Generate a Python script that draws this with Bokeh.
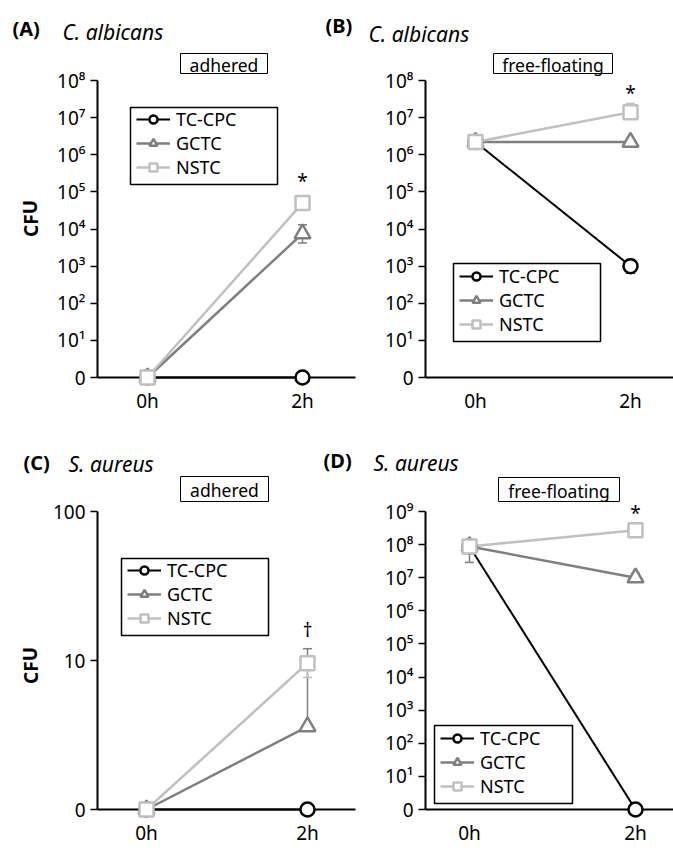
from bokeh.plotting import figure
from bokeh.models import (Range1d, LogScale, LinearScale, LinearAxis, LogAxis, FixedTicker,
                          Label, Legend, LegendItem, Whisker, TeeHead, ColumnDataSource)
from bokeh.embed import file_html
from bokeh.resources import INLINE

# ---------------- data ----------------
TIMES = ["0h", "2h"]
TIME_POS = [0, 1]
SERIES = ["TC-CPC", "GCTC", "NSTC"]

# (A) C. albicans, adhered
A_TCCPC = [1, 1]
A_GCTC = [1, 7.5e3]
A_NSTC = [1, 5.0e4]
A_ERR = [("GCTC", 1, 4.2e3, 1.3e4)]

# (B) C. albicans, free-floating
B_TCCPC = [2.2e6, 1.0e3]
B_GCTC = [2.2e6, 2.2e6]
B_NSTC = [2.2e6, 1.4e7]
B_ERR = [("TC-CPC", 1, 6.5e2, 1.5e3), ("NSTC", 1, 9.0e6, 2.4e7)]

# (C) S. aureus, adhered
C_TCCPC = [1, 1]
C_GCTC = [1, 3.6]
C_NSTC = [1, 9.6]
C_ERR = [("GCTC", 1, 3.6, 12.0), ("NSTC", 1, 7.7, 9.6)]

# (D) S. aureus, free-floating
D_TCCPC = [8.8e7, 1]
D_GCTC = [8.8e7, 1.0e7]
D_NSTC = [8.8e7, 2.7e8]
D_ERR = [("GCTC", 0, 2.9e7, 8.8e7), ("GCTC", 1, 1.0e7, 1.35e7), ("NSTC", 1, 2.7e8, 3.0e8)]

# ---------------- styles ----------------
FONT = "Noto Sans"
COLORS = {"TC-CPC": "#000000", "GCTC": "#7f7f7f", "NSTC": "#c0c0c0"}
MARKERS = {"TC-CPC": "circle", "GCTC": "triangle", "NSTC": "square"}
MSIZE = {"TC-CPC": 14, "GCTC": 16, "NSTC": 14}
LWIDTH = {"TC-CPC": 2, "GCTC": 2.5, "NSTC": 2.5}
SUP = str.maketrans("0123456789", "⁰¹²³⁴⁵⁶⁷⁸⁹")

# page-pixel geometry of each panel
PANELS = {
    "A": dict(vals=[A_TCCPC, A_GCTC, A_NSTC], err=A_ERR, x0=147, x1=302, y1=377, ytop=80, ndec=8,
              yax=97, xend=355, pow=True, legbox=(130, 107, 277, 184),
              title=("(A)", 12, 28, "C. albicans", 62, 31),
              box=("adhered", 180, 53, 267, 73),
              cfu=(30, 218), mark=("*", 302, 180)),
    "B": dict(vals=[B_TCCPC, B_GCTC, B_NSTC], err=B_ERR, x0=475, x1=630, y1=377, ytop=80, ndec=8,
              yax=425, xend=673, pow=True, legbox=(453, 263, 600, 341),
              title=("(B)", 325, 25, "C. albicans", 368, 33),
              box=("free-floating", 493, 53, 612, 73),
              cfu=None, mark=("*", 630, 92)),
    "C": dict(vals=[C_TCCPC, C_GCTC, C_NSTC], err=C_ERR, x0=146, x1=307, y1=809, ytop=511, ndec=2,
              yax=97, xend=355, pow=False, legbox=(121, 558, 268, 635),
              title=("(C)", 23, 462, "S. aureus", 68, 463),
              box=("adhered", 180, 476, 268, 501),
              cfu=(30, 665), mark=("†", 307, 629)),
    "D": dict(vals=[D_TCCPC, D_GCTC, D_NSTC], err=D_ERR, x0=469, x1=635, y1=809, ytop=511, ndec=9,
              yax=425, xend=673, pow=True, legbox=(434, 725, 572, 803),
              title=("(D)", 323, 460, "S. aureus", 373, 462),
              box=("free-floating", 498, 477, 619, 501),
              cfu=None, mark=("*", 635, 512)),
}

PX0, PX1, PY0, PY1 = 0, 673, 0, 851
p = figure(width=PX1 - PX0, height=PY1 - PY0, x_range=Range1d(PX0, PX1), y_range=Range1d(PY1, PY0),
           x_axis_location=None, y_axis_location=None, toolbar_location=None, tools="",
           output_backend="svg", min_border=0, outline_line_color=None,
           background_fill_color="white", border_fill_color="white")
p.xgrid.visible = False
p.ygrid.visible = False

exr, eyr, exs, eys = {}, {}, {}, {}
for key, g in PANELS.items():
    s = g["x1"] - g["x0"]
    d = (g["y1"] - g["ytop"]) / g["ndec"]
    exr[key + "x"] = Range1d((PX0 - g["x0"]) / s, (PX1 - g["x0"]) / s)
    eyr[key + "y"] = Range1d(10 ** ((g["y1"] - PY1) / d), 10 ** ((g["y1"] - PY0) / d))
    exs[key + "x"] = LinearScale()
    eys[key + "y"] = LogScale()
p.extra_x_ranges = exr
p.extra_y_ranges = eyr
p.extra_x_scales = exs
p.extra_y_scales = eys


def style_axis(ax):
    ax.axis_line_color = "black"
    ax.axis_line_width = 2
    ax.major_tick_line_color = "black"
    ax.major_tick_line_width = 1.5
    ax.minor_tick_line_color = None
    ax.major_label_text_font = FONT
    ax.major_label_text_font_size = "19px"
    ax.major_label_text_color = "black"


for key, g in PANELS.items():
    xn, yn = key + "x", key + "y"
    s = g["x1"] - g["x0"]
    ticks = [10 ** k for k in range(g["ndec"] + 1)]
    labels = {}
    for k, t in enumerate(ticks):
        if k == 0:
            labels[t] = "0"
        elif g["pow"]:
            labels[t] = "10" + str(k).translate(SUP)
        else:
            labels[t] = str(t)
    yax = LogAxis(x_range_name=xn, y_range_name=yn, fixed_location=(g["yax"] - g["x0"]) / s,
                  bounds=(1, ticks[-1]), ticker=FixedTicker(ticks=ticks),
                  major_label_overrides=labels)
    style_axis(yax)
    yax.major_tick_out = 7
    yax.major_tick_in = 0
    yax.major_label_standoff = 5
    p.add_layout(yax, "left")

    xax = LinearAxis(x_range_name=xn, y_range_name=yn, fixed_location=1,
                     bounds=((g["yax"] - g["x0"]) / s, (g["xend"] - g["x0"]) / s),
                     ticker=FixedTicker(ticks=TIME_POS),
                     major_label_overrides={TIME_POS[i]: TIMES[i] for i in range(2)})
    style_axis(xax)
    xax.major_tick_out = 0
    xax.major_tick_in = 0
    xax.major_label_standoff = 10
    p.add_layout(xax, "below")

    # error bars
    for name in SERIES:
        rows = [e for e in g["err"] if e[0] == name]
        if not rows:
            continue
        c = COLORS[name]
        ws = ColumnDataSource(dict(base=[TIME_POS[r[1]] for r in rows],
                                   lower=[r[2] for r in rows], upper=[r[3] for r in rows]))
        w = Whisker(source=ws, base="base", lower="lower", upper="upper", dimension="height",
                    x_range_name=xn, y_range_name=yn, line_color=c, line_width=1.5,
                    upper_head=TeeHead(size=9, line_color=c, line_width=1.5),
                    lower_head=TeeHead(size=9, line_color=c, line_width=1.5))
        p.add_layout(w)

    # legend frame (decoration)
    bl, bt_, br, bb = g["legbox"]
    p.quad(left=[bl], right=[br], top=[bt_], bottom=[bb], fill_color="white",
           line_color="black", line_width=1.5)

    items = []
    for name, vals in zip(SERIES, g["vals"]):
        c = COLORS[name]
        src = ColumnDataSource(dict(x=TIME_POS, y=vals))
        lr = p.line("x", "y", source=src, x_range_name=xn, y_range_name=yn,
                    line_color=c, line_width=LWIDTH[name])
        sr = p.scatter("x", "y", source=src, x_range_name=xn, y_range_name=yn,
                       marker=MARKERS[name], size=MSIZE[name], fill_color="white",
                       line_color=c, line_width=2.5)
        lr.level = "annotation"
        sr.level = "overlay"
        items.append(LegendItem(label=name, renderers=[lr, sr]))

    leg = Legend(items=items, location=(bl + 6, PY1 - bb + 5), border_line_color=None,
                 background_fill_alpha=0, padding=2, spacing=0,
                 margin=0, glyph_width=34, glyph_height=20, label_standoff=6,
                 label_text_font=FONT, label_text_font_size="18px", label_text_color="black",
                 label_height=20)
    p.add_layout(leg)

    t1, x1, y1, t2, x2, y2 = g["title"]
    p.add_layout(Label(x=x1, y=y1, text=t1, text_font=FONT, text_font_size="20px",
                       text_font_style="bold", text_baseline="middle", text_align="left",
                       text_color="black"))
    p.add_layout(Label(x=x2, y=y2, text=t2, text_font=FONT, text_font_size="21px",
                       text_font_style="italic", text_baseline="middle", text_align="left",
                       text_color="black"))
    btxt, bx0, by0, bx1, by1 = g["box"]
    p.quad(left=[bx0], right=[bx1], top=[by0], bottom=[by1], fill_color="white",
           line_color="black", line_width=1)
    p.add_layout(Label(x=(bx0 + bx1) / 2, y=(by0 + by1) / 2 + 1, text=btxt, text_font=FONT,
                       text_font_size="17.5px", text_baseline="middle", text_align="center",
                       text_color="black"))
    if g["cfu"]:
        cx, cy = g["cfu"]
        p.add_layout(Label(x=cx, y=cy, text="CFU", text_font=FONT, text_font_size="19px",
                           text_font_style="bold", text_baseline="middle", text_align="center",
                           angle=1.5708, text_color="black"))
    mt, mx, my = g["mark"]
    p.add_layout(Label(x=mx, y=my, text=mt, text_font=FONT, text_font_size="19px",
                       text_baseline="middle", text_align="center", text_color="black"))

open("out.html", "w").write(file_html(p, INLINE))
